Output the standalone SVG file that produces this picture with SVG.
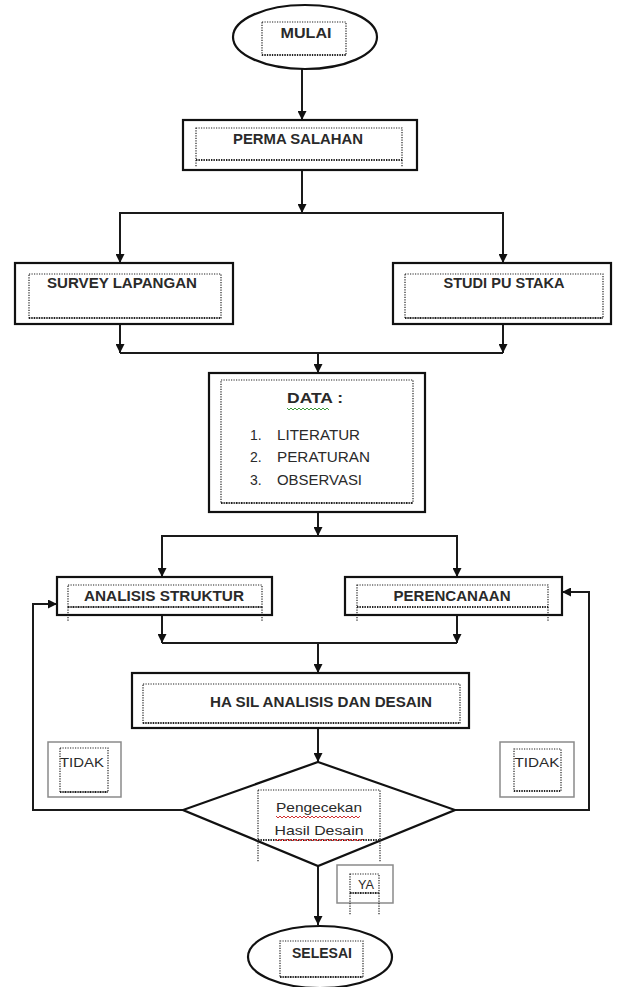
<svg xmlns="http://www.w3.org/2000/svg" width="617" height="987" viewBox="0 0 617 987">
<style>
.box{fill:#fff;stroke:#111;stroke-width:2.2}
.gbox{fill:#fff;stroke:#8a8a8a;stroke-width:1.5}
.dot{fill:none;stroke:#222;stroke-width:1.2;stroke-dasharray:1.2 1.3}
.dotb{fill:none;stroke:#222;stroke-width:2.2;stroke-dasharray:1.2 1.3}
.ln{fill:none;stroke:#1a1a1a;stroke-width:2}
.t{font-family:"Liberation Sans",Arial,sans-serif;font-size:14px;font-weight:bold;fill:#2a2a2a;text-anchor:middle}
.n{font-family:"Liberation Sans",Arial,sans-serif;font-size:13px;fill:#2a2a2a;text-anchor:middle}
.r{font-family:"Liberation Sans",Arial,sans-serif;font-size:14px;fill:#2a2a2a}
.w{fill:none;stroke-width:1}
</style>
<defs>
<marker id="ah" viewBox="0 0 10 10" refX="10" refY="5" markerWidth="9" markerHeight="9" markerUnits="userSpaceOnUse" orient="auto">
<path d="M0,0 L10,5 L0,10 z" fill="#111"/>
</marker>
</defs>
<rect width="617" height="987" fill="#fff"/>
<g id="connectors">
<path class="ln" d="M302,69 V120" marker-end="url(#ah)"/>
<path class="ln" d="M302,170 V213" marker-end="url(#ah)"/>
<path class="ln" d="M302,213 H120 V263" marker-end="url(#ah)"/>
<path class="ln" d="M302,213 H503 V263" marker-end="url(#ah)"/>
<path class="ln" d="M120,324 V353" marker-end="url(#ah)"/>
<path class="ln" d="M503,324 V353" marker-end="url(#ah)"/>
<path class="ln" d="M120,353 H503"/>
<path class="ln" d="M318,353 V373" marker-end="url(#ah)"/>
<path class="ln" d="M318,512 V536" marker-end="url(#ah)"/>
<path class="ln" d="M318,536 H162 V577" marker-end="url(#ah)"/>
<path class="ln" d="M318,536 H457 V577" marker-end="url(#ah)"/>
<path class="ln" d="M162,615 V643" marker-end="url(#ah)"/>
<path class="ln" d="M457,615 V643" marker-end="url(#ah)"/>
<path class="ln" d="M162,643 H457"/>
<path class="ln" d="M318,643 V673" marker-end="url(#ah)"/>
<path class="ln" d="M318,728 V762" marker-end="url(#ah)"/>
<path class="ln" d="M183,810 H33 V604 H57" marker-end="url(#ah)"/>
<path class="ln" d="M455,810 H589 V592 H562" marker-end="url(#ah)"/>
<path class="ln" d="M318,866 V925" marker-end="url(#ah)"/>
</g>
<g id="mulai">
<ellipse class="box" cx="305" cy="37" rx="72" ry="32"/>
<rect class="dot" x="262" y="22" width="84" height="33"/>
<path class="dotb" d="M262,55 H346"/>
<text class="t" x="306" y="38" textLength="51" lengthAdjust="spacingAndGlyphs">MULAI</text>
</g>
<g id="permasalahan">
<rect class="box" x="183" y="120" width="234" height="50"/>
<rect class="dot" x="196" y="128" width="206" height="32"/>
<path class="dotb" d="M196,160 H402"/>
<path class="dot" d="M196,160 V167 M402,160 V167"/>
<text class="t" x="298" y="144" textLength="130" lengthAdjust="spacingAndGlyphs">PERMA SALAHAN</text>
</g>
<g id="survey">
<rect class="box" x="15" y="263" width="218" height="61"/>
<rect class="dot" x="29" y="274" width="192" height="44"/>
<path class="dotb" d="M29,318 H221"/>
<text class="t" x="122" y="288" textLength="150" lengthAdjust="spacingAndGlyphs">SURVEY  LAPANGAN</text>
</g>
<g id="studi">
<rect class="box" x="393" y="263" width="218" height="61"/>
<rect class="dot" x="405" y="274" width="198" height="44"/>
<path class="dotb" d="M405,318 H603"/>
<text class="t" x="504" y="288" textLength="121" lengthAdjust="spacingAndGlyphs">STUDI PU STAKA</text>
</g>
<g id="data">
<rect class="box" x="209" y="373" width="216" height="139"/>
<rect class="dot" x="221" y="380" width="192" height="123"/>
<path class="dotb" d="M221,503 H413"/>
<text class="t" x="315" y="403" textLength="56" lengthAdjust="spacingAndGlyphs">DATA  :</text>
<path class="w" stroke="#3a9a3a" d="M287,408 l2,2 l2,-2 l2,2 l2,-2 l2,2 l2,-2 l2,2 l2,-2 l2,2 l2,-2 l2,2 l2,-2 l2,2 l2,-2 l2,2 l2,-2 l2,2 l2,-2 l2,2 l2,-2 l2,2"/>
<text class="r" x="250" y="440">1.</text>
<text class="r" x="277" y="440" textLength="83" lengthAdjust="spacingAndGlyphs">LITERATUR</text>
<text class="r" x="250" y="462">2.</text>
<text class="r" x="277" y="462" textLength="93" lengthAdjust="spacingAndGlyphs">PERATURAN</text>
<text class="r" x="250" y="485">3.</text>
<text class="r" x="277" y="485" textLength="85" lengthAdjust="spacingAndGlyphs">OBSERVASI</text>
</g>
<g id="analisis">
<rect class="box" x="57" y="577" width="215" height="38"/>
<rect class="dot" x="68" y="585" width="194" height="22"/>
<path class="dotb" d="M68,607 H262"/>
<path class="dot" d="M68,607 V622 M262,607 V622"/>
<text class="t" x="164" y="601" textLength="160" lengthAdjust="spacingAndGlyphs">ANALISIS STRUKTUR</text>
</g>
<g id="perencanaan">
<rect class="box" x="345" y="577" width="217" height="38"/>
<rect class="dot" x="357" y="585" width="191" height="22"/>
<path class="dotb" d="M357,607 H548"/>
<path class="dot" d="M357,607 V622 M548,607 V622"/>
<text class="t" x="452" y="601" textLength="117" lengthAdjust="spacingAndGlyphs">PERENCANAAN</text>
</g>
<g id="hasil">
<rect class="box" x="132" y="673" width="337" height="55"/>
<rect class="dot" x="143" y="684" width="317" height="39"/>
<path class="dotb" d="M143,723 H460"/>
<text class="t" x="321" y="707" textLength="222" lengthAdjust="spacingAndGlyphs">HA SIL ANALISIS  DAN DESAIN</text>
</g>
<g id="pengecekan">
<polygon class="box" points="318,762 455,810 318,866 183,810"/>
<rect class="dot" x="258" y="790" width="122" height="50"/>
<path class="dotb" d="M258,840 H380"/>
<path class="dot" d="M258,840 V862 M380,840 V862"/>
<text class="n" x="319" y="812" textLength="86" lengthAdjust="spacingAndGlyphs">Pengecekan</text>
<path class="w" stroke="#d03030" d="M276,816 l2,2 l2,-2 l2,2 l2,-2 l2,2 l2,-2 l2,2 l2,-2 l2,2 l2,-2 l2,2 l2,-2 l2,2 l2,-2 l2,2 l2,-2 l2,2 l2,-2 l2,2 l2,-2 l2,2 l2,-2 l2,2 l2,-2 l2,2 l2,-2 l2,2 l2,-2 l2,2 l2,-2 l2,2 l2,-2 l2,2 l2,-2 l2,2 l2,-2 l2,2 l2,-2 l2,2 l2,-2 l2,2 l2,-2"/>
<text class="n" x="319" y="835" textLength="89" lengthAdjust="spacingAndGlyphs">Hasil Desain</text>
<path class="w" stroke="#d03030" d="M275,839 l2,2 l2,-2 l2,2 l2,-2 l2,2 l2,-2 l2,2 l2,-2 l2,2 l2,-2 l2,2 l2,-2 l2,2 l2,-2 l2,2 l2,-2 l2,2 l2,-2 l2,2 l2,-2 l2,2 l2,-2 l2,2 l2,-2 l2,2 l2,-2 l2,2 l2,-2 l2,2 l2,-2 l2,2 l2,-2 l2,2 l2,-2 l2,2 l2,-2 l2,2 l2,-2 l2,2 l2,-2 l2,2 l2,-2 l2,2 l2,-2"/>
</g>
<g id="tidak-kiri">
<rect class="gbox" x="48" y="742" width="73" height="55"/>
<rect class="dot" x="60" y="748" width="48" height="44"/>
<path class="dotb" d="M60,792 H108"/>
<text class="n" x="82" y="767" textLength="44" lengthAdjust="spacingAndGlyphs">TIDAK</text>
</g>
<g id="tidak-kanan">
<rect class="gbox" x="500" y="742" width="74" height="55"/>
<rect class="dot" x="514" y="749" width="47" height="42"/>
<path class="dotb" d="M514,791 H561"/>
<text class="n" x="537" y="767" textLength="45" lengthAdjust="spacingAndGlyphs">TIDAK</text>
</g>
<g id="ya">
<rect class="gbox" x="337" y="865" width="56" height="38"/>
<rect class="dot" x="350" y="874" width="29" height="19"/>
<path class="dotb" d="M350,893 H379"/>
<path class="dot" d="M350,893 V915 M379,893 V915"/>
<text class="n" x="366" y="889" textLength="16" lengthAdjust="spacingAndGlyphs">YA</text>
</g>
<g id="selesai">
<ellipse class="box" cx="320" cy="957" rx="72" ry="31"/>
<rect class="dot" x="280" y="941" width="83" height="36"/>
<path class="dotb" d="M280,977 H363"/>
<text class="t" x="322" y="958" textLength="60" lengthAdjust="spacingAndGlyphs">SELESAI</text>
</g>
</svg>
